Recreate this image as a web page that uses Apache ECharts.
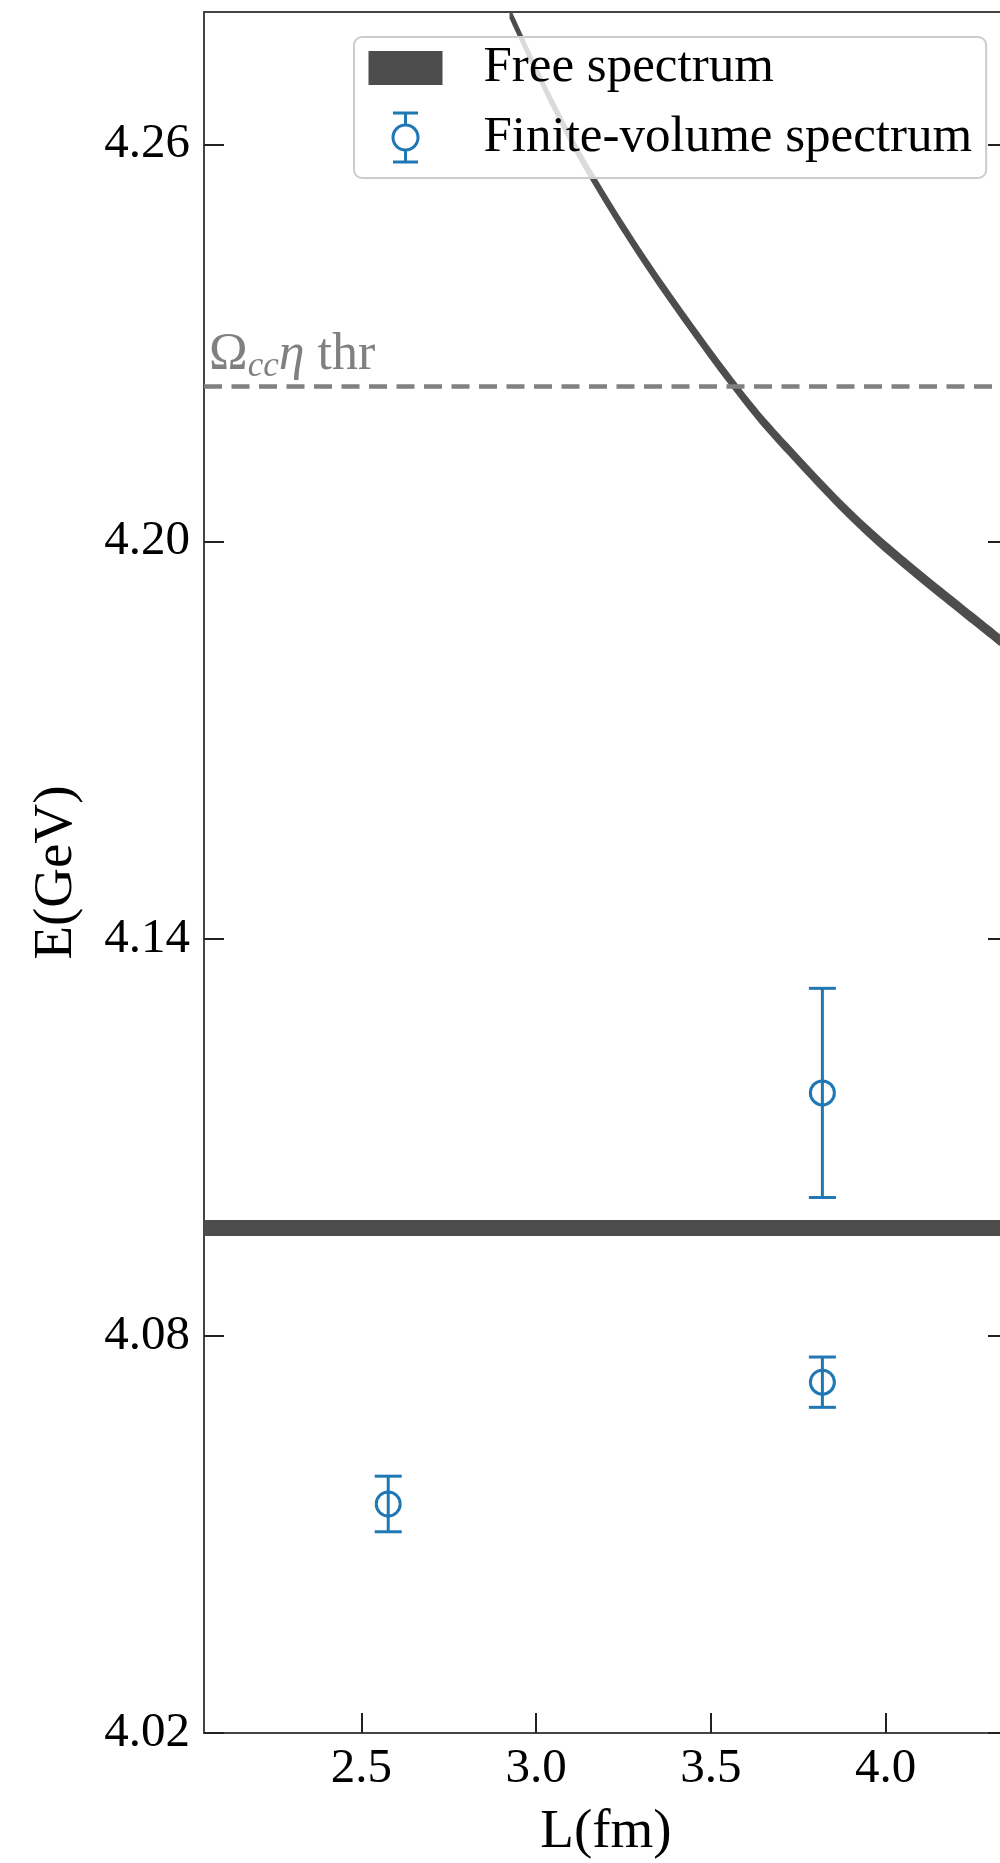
<!DOCTYPE html>
<html>
<head>
<meta charset="utf-8">
<script src="https://cdn.jsdelivr.net/npm/echarts@6/dist/echarts.min.js"></script>
<style>
  html, body { margin: 0; padding: 0; background: #ffffff; }
  #chart { width: 1000px; height: 1863px; }
</style>
</head>
<body>
<div id="chart"></div>
<script>
// Axes: box size L (fm) and energy E (GeV)
const lRange = [2.05, 4.35];
const eRange = [4.02, 4.28];
const lTicks = [2.5, 3.0, 3.5, 4.0];
const eTicks = [4.02, 4.08, 4.14, 4.20, 4.26];

// Lowest free level: flat band across the whole L range
const thresholdL = [2.05, 4.35];
const thresholdLow = [4.0951, 4.0951];
const thresholdHigh = [4.0975, 4.0975];

// First free level with one unit of back-to-back momentum
const movingL = [2.924, 3.043, 3.158, 3.334, 3.562, 3.720, 3.969, 4.327];
const movingE = [4.2799, 4.2666, 4.2553, 4.2406, 4.2239, 4.2140, 4.2006, 4.1851];
const movingHalfWidth = 0.0009;

// Finite-volume energy levels with uncertainties
const levelL = [2.577, 3.819, 3.819];
const levelE = [4.0546, 4.0730, 4.1167];
const levelErr = [0.0042, 0.0038, 0.0158];

// Omega_cc eta threshold
const omegaEtaThr = 4.2235;

const dark = '#4d4d4d';
const blue = '#1f77b4';
const grey = '#808080';
const serif = 'Liberation Serif';

// Cubic segments (Catmull-Rom) running through the projected points
function throughPoints(pts) {
  let d = '';
  for (let i = 0; i < pts.length - 1; i++) {
    const p0 = pts[i - 1] || pts[i];
    const p1 = pts[i];
    const p2 = pts[i + 1];
    const p3 = pts[i + 2] || pts[i + 1];
    const c1x = p1[0] + (p2[0] - p0[0]) / 6, c1y = p1[1] + (p2[1] - p0[1]) / 6;
    const c2x = p2[0] - (p3[0] - p1[0]) / 6, c2y = p2[1] - (p3[1] - p1[1]) / 6;
    d += ' C' + c1x + ' ' + c1y + ' ' + c2x + ' ' + c2y + ' ' + p2[0] + ' ' + p2[1];
  }
  return d;
}

// A filled band between a lower and an upper edge, drawn once as one closed path
function band(name, xs, lo, hi, z, extra) {
  return Object.assign({
    name: name,
    type: 'custom',
    z: z,
    silent: true,
    clip: true,
    color: dark,
    data: xs.map((x, i) => [x, lo[i], hi[i]]),
    encode: { x: 0, y: [1, 2] },
    renderItem: function (params, api) {
      if (params.dataIndex !== 0) return null;
      const upper = xs.map((x, i) => api.coord([x, hi[i]]));
      const lower = xs.map((x, i) => api.coord([x, lo[i]])).reverse();
      const d = 'M' + upper[0][0] + ' ' + upper[0][1] + throughPoints(upper) +
        ' L' + lower[0][0] + ' ' + lower[0][1] + throughPoints(lower) + ' Z';
      return {
        type: 'path',
        shape: { pathData: d },
        style: { fill: dark, stroke: null }
      };
    }
  }, extra || {});
}

const thresholdBand = band('Free spectrum', thresholdL, thresholdLow, thresholdHigh, 1, {
  markLine: {
    silent: true,
    animation: false,
    precision: 6,
    symbol: ['none', 'none'],
    lineStyle: { color: grey, type: [18, 9.5], width: 4.5 },
    label: {
      show: true,
      position: 'insideStartTop',
      distance: [5, 2],
      formatter: '{o|Ω}{s|cc}{i|η}{r| thr}',
      rich: {
        o: { fontFamily: serif, fontSize: 52, color: grey },
        s: { fontFamily: serif, fontSize: 35, fontStyle: 'italic', color: grey, verticalAlign: 'bottom', padding: [22, 0, 0, 0] },
        i: { fontFamily: serif, fontSize: 52, fontStyle: 'italic', color: grey },
        r: { fontFamily: serif, fontSize: 52, color: grey }
      }
    },
    data: [{ yAxis: omegaEtaThr }]
  }
});

const movingBand = band('Free spectrum', movingL,
  movingE.map(e => e - movingHalfWidth),
  movingE.map(e => e + movingHalfWidth), 2);

const errorBars = {
  name: 'Finite-volume spectrum',
  type: 'custom',
  z: 2,
  silent: true,
  data: levelL.map((l, i) => [l, levelE[i] - levelErr[i], levelE[i] + levelErr[i]]),
  encode: { x: 0, y: [1, 2] },
  renderItem: function (params, api) {
    const lo = api.coord([api.value(0), api.value(1)]);
    const hi = api.coord([api.value(0), api.value(2)]);
    const cap = 13.5;
    const style = { stroke: blue, lineWidth: 3, fill: null };
    return {
      type: 'group',
      children: [
        { type: 'line', shape: { x1: lo[0], y1: lo[1], x2: hi[0], y2: hi[1] }, style: style },
        { type: 'line', shape: { x1: lo[0] - cap, y1: lo[1], x2: lo[0] + cap, y2: lo[1] }, style: style },
        { type: 'line', shape: { x1: hi[0] - cap, y1: hi[1], x2: hi[0] + cap, y2: hi[1] }, style: style }
      ]
    };
  }
};

const levelMarkers = {
  name: 'Finite-volume spectrum',
  type: 'scatter',
  z: 3,
  silent: true,
  symbol: 'circle',
  symbolSize: 24,
  itemStyle: { color: 'rgba(0,0,0,0)', borderColor: blue, borderWidth: 3, opacity: 1 },
  data: levelL.map((l, i) => [l, levelE[i]])
};

const axisLineStyle = { color: '#444444', width: 2 };
const tickLineStyle = { color: '#222222', width: 2 };

const option = {
  animation: false,
  backgroundColor: '#ffffff',
  grid: { left: 204, right: -8, top: 12, bottom: 130, containLabel: false, outerBoundsMode: 'none' },
  legend: {
    z: 10,
    orient: 'vertical',
    left: 354,
    top: 37,
    padding: [5, 14, 13, 13],
    itemGap: 16,
    itemWidth: 74,
    itemHeight: 52,
    selectedMode: false,
    backgroundColor: 'rgba(255,255,255,0.8)',
    borderColor: '#cccccc',
    borderWidth: 2,
    borderRadius: 8,
    textStyle: { fontFamily: serif, fontSize: 51, lineHeight: 40, color: '#000000', padding: [12, 0, 0, 36] },
    data: [
      { name: 'Free spectrum', icon: 'path://M0 0M0 9H74V43H0ZM74 52', itemStyle: { color: dark } },
      {
        name: 'Finite-volume spectrum',
        icon: 'path://M0 0M74 52M24.5 1.5H49.5M37 1.5V13.5M37 38.5V50.5M24.5 50.5H49.5M37 13.5A12.5 12.5 0 1 1 37 38.5A12.5 12.5 0 1 1 37 13.5',
        itemStyle: { color: 'rgba(0,0,0,0)', borderColor: blue, borderWidth: 3 }
      }
    ]
  },
  xAxis: [
    {
      type: 'value', position: 'bottom', min: lRange[0], max: lRange[1],
      name: 'L(fm)', nameLocation: 'middle', nameGap: 72,
      nameTextStyle: { fontFamily: serif, fontSize: 55, color: '#000000' },
      axisLine: { show: true, onZero: false, lineStyle: axisLineStyle },
      axisTick: { show: true, inside: true, length: 20, lineStyle: tickLineStyle, customValues: lTicks },
      axisLabel: { show: true, margin: 12, fontFamily: serif, fontSize: 49, color: '#000000',
        customValues: lTicks, formatter: v => Number(v).toFixed(1) },
      splitLine: { show: false }
    },
    {
      type: 'value', position: 'top', min: lRange[0], max: lRange[1],
      axisLine: { show: true, onZero: false, lineStyle: axisLineStyle },
      axisTick: { show: false }, axisLabel: { show: false }, splitLine: { show: false }
    }
  ],
  yAxis: [
    {
      type: 'value', position: 'left', min: eRange[0], max: eRange[1],
      name: 'E(GeV)', nameLocation: 'middle', nameGap: 120,
      nameTextStyle: { fontFamily: serif, fontSize: 55, color: '#000000' },
      axisLine: { show: true, onZero: false, lineStyle: axisLineStyle },
      axisTick: { show: true, inside: true, length: 20, lineStyle: tickLineStyle, customValues: eTicks },
      axisLabel: { show: true, margin: 14, fontFamily: serif, fontSize: 49, color: '#000000',
        customValues: eTicks, formatter: v => Number(v).toFixed(2) },
      splitLine: { show: false }
    },
    {
      type: 'value', position: 'right', min: eRange[0], max: eRange[1],
      axisLine: { show: true, onZero: false, lineStyle: axisLineStyle },
      axisTick: { show: true, inside: true, length: 20, lineStyle: tickLineStyle, customValues: eTicks },
      axisLabel: { show: false }, splitLine: { show: false }
    }
  ],
  series: [thresholdBand, movingBand, errorBars, levelMarkers]
};

const chart = echarts.init(document.getElementById('chart'), null, { renderer: 'canvas' });
chart.setOption(option);
</script>
</body>
</html>
